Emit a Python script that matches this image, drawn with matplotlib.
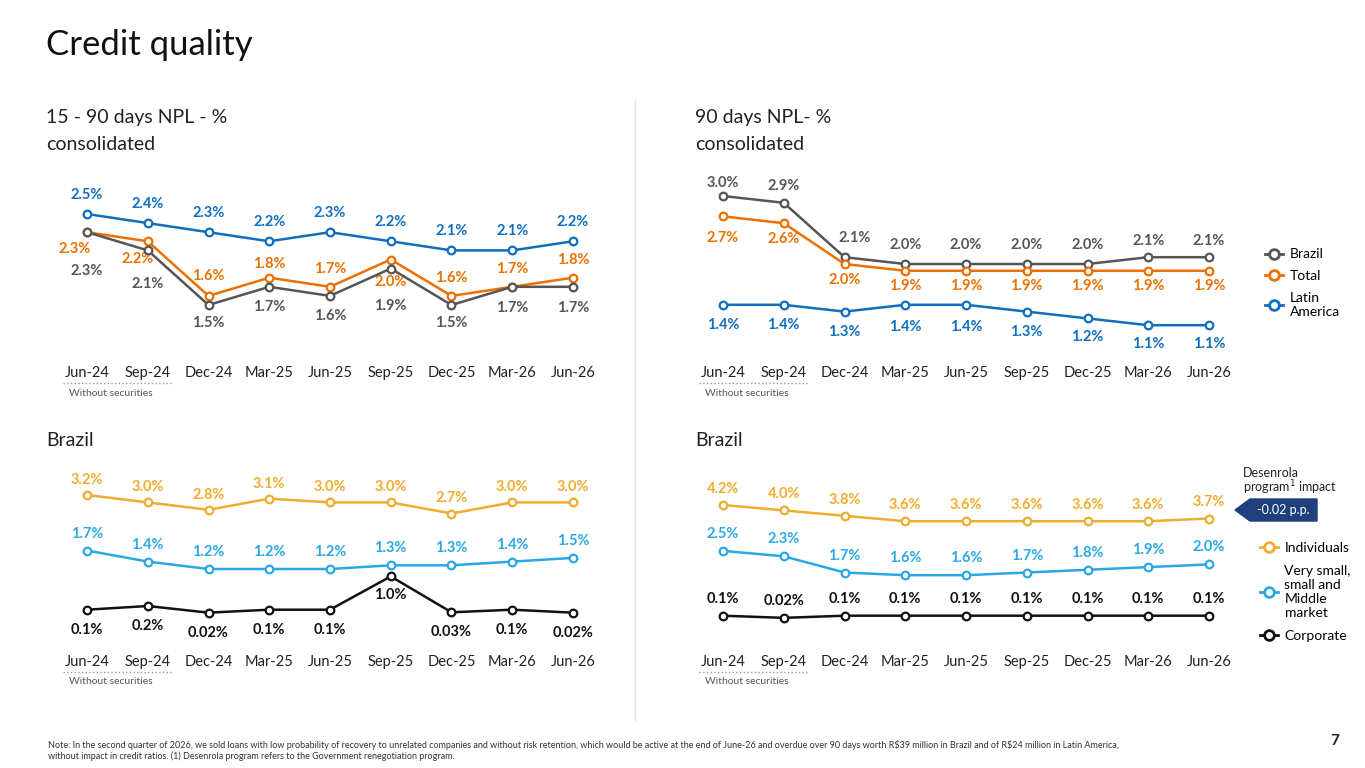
import matplotlib
matplotlib.use("Agg")
import matplotlib.pyplot as plt
from matplotlib.lines import Line2D
from matplotlib.patches import Polygon
import matplotlib.transforms as mtrans

plt.rcParams['font.family'] = ['Lato', 'DejaVu Sans']

months = ['Jun-24', 'Sep-24', 'Dec-24', 'Mar-25', 'Jun-25', 'Sep-25', 'Dec-25', 'Mar-26', 'Jun-26']

npl15_brazil = [2.3, 2.1, 1.5, 1.7, 1.6, 1.9, 1.5, 1.7, 1.7]
npl15_total = [2.3, 2.2, 1.6, 1.8, 1.7, 2.0, 1.6, 1.7, 1.8]
npl15_latam = [2.5, 2.4, 2.3, 2.2, 2.3, 2.2, 2.1, 2.1, 2.2]

npl90_brazil = [3.0, 2.9, 2.1, 2.0, 2.0, 2.0, 2.0, 2.1, 2.1]
npl90_total = [2.7, 2.6, 2.0, 1.9, 1.9, 1.9, 1.9, 1.9, 1.9]
npl90_latam = [1.4, 1.4, 1.3, 1.4, 1.4, 1.3, 1.2, 1.1, 1.1]

br15_individuals = [3.2, 3.0, 2.8, 3.1, 3.0, 3.0, 2.7, 3.0, 3.0]
br15_sme = [1.7, 1.4, 1.2, 1.2, 1.2, 1.3, 1.3, 1.4, 1.5]
br15_corporate = [0.1, 0.2, 0.02, 0.1, 0.1, 1.0, 0.03, 0.1, 0.02]
br15_corp_labels = ['0.1%', '0.2%', '0.02%', '0.1%', '0.1%', '1.0%', '0.03%', '0.1%', '0.02%']

br90_individuals = [4.2, 4.0, 3.8, 3.6, 3.6, 3.6, 3.6, 3.6, 3.7]
br90_sme = [2.5, 2.3, 1.7, 1.6, 1.6, 1.7, 1.8, 1.9, 2.0]
br90_corporate = [0.1, 0.02, 0.1, 0.1, 0.1, 0.1, 0.1, 0.1, 0.1]
br90_corp_labels = ['0.1%', '0.02%', '0.1%', '0.1%', '0.1%', '0.1%', '0.1%', '0.1%', '0.1%']

GRAY = '#555555'
ORANGE = '#EC7000'
BLUE = '#106EBE'
GOLD = '#F0AC2E'
LBLUE = '#2AA8E6'
BLACK = '#111111'

W, H = 1365, 768
fig = plt.figure(figsize=(W / 100, H / 100), dpi=100)


def fx(px):
    return px / W


def fy(py):
    return 1 - py / H


def make_axes(left, right, top, bottom, ref_val, ref_px, scale):
    ax = fig.add_axes([fx(left), fy(bottom), fx(right - left), fy(top) - fy(bottom)])
    x0 = 87 if left < 600 else 723
    step = 60.75
    ax.set_xlim(-(x0 - left) / step, 8 + (right - (x0 + 8 * step)) / step)
    ax.set_ylim(ref_val + (ref_px - bottom) / scale, ref_val + (ref_px - top) / scale)
    ax.axis('off')
    return ax


def series(ax, vals, color, offsets, labels=None):
    xs = range(len(vals))
    ax.plot(xs, vals, color=color, lw=1.8, marker='o', ms=5.5, mfc='white',
            mec=color, mew=1.6, zorder=3)
    for i, v in enumerate(vals):
        lab = labels[i] if labels else f'{v:.1f}%'
        dx, dy = offsets[i] if isinstance(offsets, list) else offsets
        ax.annotate(lab, (i, v), xytext=(dx, dy), textcoords='offset pixels',
                    ha='center', va='center', fontsize=10.5, fontweight='bold',
                    color=color)


# top left
ax1 = make_axes(60, 600, 170, 345, 2.5, 214, 91)
series(ax1, npl15_latam, BLUE, (0, 19))
series(ax1, npl15_total, ORANGE, [(-12, -17), (-10, -18), (0, 20), (0, 14), (0, 18), (0, -22), (0, 18), (0, 18), (0, 18)])
series(ax1, npl15_brazil, GRAY, [(0, -39), (0, -34), (0, -18), (0, -20), (0, -20), (0, -37), (0, -18), (0, -21), (0, -21)])

# top right
ax2 = make_axes(696, 1238, 170, 345, 3.0, 196, 68)
series(ax2, npl90_brazil, GRAY, [(0, 13), (0, 17), (10, 19), (0, 19), (0, 19), (0, 19), (0, 19), (0, 16), (0, 16)])
series(ax2, npl90_total, ORANGE, [(0, -22), (0, -16), (0, -16), (0, -15), (0, -15), (0, -15), (0, -15), (0, -15), (0, -15)])
series(ax2, npl90_latam, BLUE, [(0, -20), (0, -20), (0, -20), (0, -22), (0, -22), (0, -20), (0, -19), (0, -19), (0, -19)])

# bottom left
ax3 = make_axes(60, 600, 460, 640, 3.2, 495, 37)
series(ax3, br15_individuals, GOLD, (0, 15))
series(ax3, br15_sme, LBLUE, (0, 17))
series(ax3, br15_corporate, BLACK, [(0, -20), (0, -20), (0, -20), (0, -20), (0, -20), (0, -19), (0, -20), (0, -20), (0, -20)],
       labels=br15_corp_labels)

# bottom right
ax4 = make_axes(696, 1238, 460, 640, 4.2, 505, 27)
series(ax4, br90_individuals, GOLD, (0, 16))
series(ax4, br90_sme, LBLUE, (0, 17))
series(ax4, br90_corporate, BLACK, (0, 17), labels=br90_corp_labels)

for ax, ypx in [(ax1, 373), (ax2, 373), (ax3, 662), (ax4, 662)]:
    tr = mtrans.blended_transform_factory(ax.transData, fig.transFigure)
    for i, m in enumerate(months):
        ax.text(i, fy(ypx), m, transform=tr, ha='center', va='center', fontsize=10.5, color='#222222')
    ax.plot([-0.4, 1.4], [fy(ypx + 10)] * 2, transform=tr, ls=':', color='#8899BB', lw=1, clip_on=False)
    ax.text(-0.3, fy(ypx + 20), 'Without securities', transform=tr, ha='left', va='center',
            fontsize=7.5, color='#555555')

# titles
fig.text(fx(46), fy(45), 'Credit quality', fontsize=25, va='center', color='#111111')
for x, y, t in [(46, 117, '15 - 90 days NPL - %'), (46, 144, 'consolidated'),
                (695, 117, '90 days NPL- %'), (695, 144, 'consolidated'),
                (46, 440, 'Brazil'), (695, 440, 'Brazil')]:
    fig.text(fx(x), fy(y), t, fontsize=14, va='center', color='#222222')

fig.add_artist(Line2D([fx(635)] * 2, [fy(100), fy(720)], color='#E6E6E6', lw=1))

# legends
leg1 = [Line2D([], [], color=c, lw=2, marker='o', ms=7, mfc='white', mec=c, mew=2) for c in (GRAY, ORANGE, BLUE)]
fig.legend(leg1, ['Brazil', 'Total', 'Latin\nAmerica'], loc='upper left',
           bbox_to_anchor=(fx(1252), fy(236)), frameon=False, fontsize=10,
           handlelength=1.3, handletextpad=0.5, labelspacing=0.7)
leg2 = [Line2D([], [], color=c, lw=2, marker='o', ms=7, mfc='white', mec=c, mew=2) for c in (GOLD, LBLUE, BLACK)]
fig.legend(leg2, ['Individuals', 'Very small,\nsmall and\nMiddle\nmarket', 'Corporate'], loc='upper left',
           bbox_to_anchor=(fx(1247), fy(529)), frameon=False, fontsize=10,
           handlelength=1.3, handletextpad=0.5, labelspacing=0.8)

fig.text(fx(1243), fy(473), 'Desenrola', fontsize=9, va='center', color='#222222')
fig.text(fx(1243), fy(488), 'program$^1$ impact', fontsize=9, va='center', color='#222222')
fig.add_artist(Polygon([[fx(1235), fy(510)], [fx(1250), fy(499)], [fx(1317), fy(499)],
                        [fx(1317), fy(521)], [fx(1250), fy(521)]], closed=True,
                       facecolor='#1F3F7E', edgecolor='#1F3F7E', transform=fig.transFigure))
fig.text(fx(1283), fy(510), '-0.02 p.p.', fontsize=9, va='center', ha='center', color='white')

fig.text(fx(48), fy(745), 'Note: In the second quarter of 2026, we sold loans with low probability of recovery to unrelated companies and without risk retention, '
         'which would be active at the end of June-26 and overdue over 90 days worth R\\$39 million in Brazil and of R\\$24 million in Latin America,',
         fontsize=6.5, va='center', color='#333333')
fig.text(fx(48), fy(756), 'without impact in credit ratios. (1) Desenrola program refers to the Government renegotiation program.',
         fontsize=6.5, va='center', color='#333333')
fig.text(fx(1330), fy(741), '7', fontsize=11, fontweight='bold', va='center', color='#222222')

fig.savefig('out.png', dpi=100, facecolor='white')
